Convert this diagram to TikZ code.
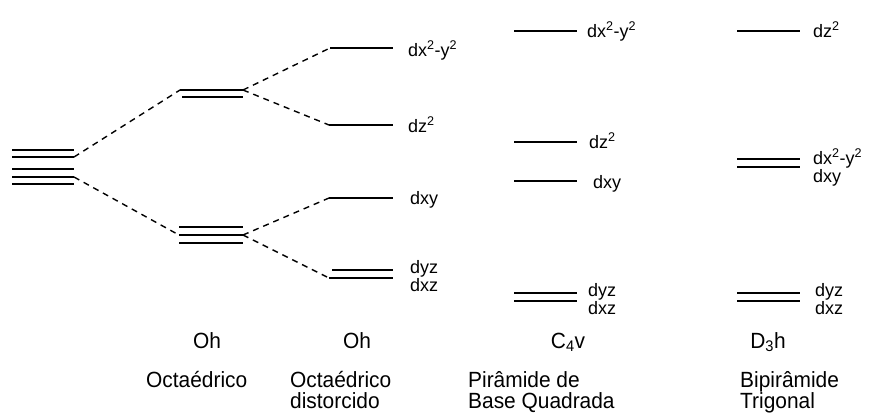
\documentclass[tikz,border=0pt]{standalone}
\usepackage{fontspec}
\setmainfont{Liberation Sans}
\newfontfamily\labfont[FakeStretch=0.95]{Liberation Sans}
\begin{document}
\begin{tikzpicture}[x=1pt,y=-1pt,
  lvl/.style={line width=1.8pt},
  conn/.style={line width=1.4pt,dash pattern=on 6pt off 5pt},
  orb/.style={anchor=base west,inner sep=0pt,font=\fontsize{18}{18}\selectfont},
  sym/.style={anchor=base,inner sep=0pt,font=\labfont\fontsize{22}{21}\selectfont},
  geo/.style={anchor=base west,inner sep=0pt,align=left,font=\labfont\fontsize{22}{21}\selectfont}]
\useasboundingbox (0,0) rectangle (874,416);
% left stack (free ion)
\foreach \i/\y in {1/150,2/157,3/169,4/177,5/184}{
  \coordinate (sL\i) at (12,\y); \coordinate (sR\i) at (74,\y);
  \draw[lvl] (sL\i) -- (sR\i);}
% Oh
\coordinate (egAl) at (180,90); \coordinate (egAr) at (243,90);
\coordinate (egBl) at (182,97); \coordinate (egBr) at (243,97);
\draw[lvl] (egAl) -- (egAr); \draw[lvl] (egBl) -- (egBr);
\coordinate (tAl) at (179,227); \coordinate (tAr) at (243,227);
\coordinate (tBl) at (179,235); \coordinate (tBr) at (243,235);
\coordinate (tCl) at (179,243); \coordinate (tCr) at (243,243);
\draw[lvl] (tAl) -- (tAr); \draw[lvl] (tBl) -- (tBr); \draw[lvl] (tCl) -- (tCr);
% distorted Oh
\coordinate (x2l) at (330,48); \coordinate (x2r) at (393,48);
\coordinate (z2l) at (329,125); \coordinate (z2r) at (393,125);
\coordinate (xyl) at (329,198); \coordinate (xyr) at (393,198);
\coordinate (yzl) at (332,270); \coordinate (yzr) at (393,270);
\coordinate (xzl) at (329,278); \coordinate (xzr) at (393,278);
\foreach \n in {x2,z2,xy,yz,xz}{\draw[lvl] (\n l) -- (\n r);}
\node[orb] (lx2) at (408,56) {dx\textsuperscript{2}-y\textsuperscript{2}};
\node[orb] (lz2) at (408,132) {dz\textsuperscript{2}};
\node[orb] (lxy) at (410,204) {dxy};
\node[orb] (lyz) at (410,273) {dyz};
\node[orb] (lxz) at (410,291) {dxz};
% connectors
\draw[conn] (sR2) -- (egAl);
\draw[conn] (sR4) -- (tBl);
\draw[conn] (egAr) -- (x2l);
\draw[conn] (egAr) -- (z2l);
\draw[conn] (tBr) -- (xyl);
\draw[conn] (tBr) -- (xzl);
% C4v
\coordinate (cx2l) at (514,31); \coordinate (cx2r) at (577,31);
\coordinate (cz2l) at (514,142); \coordinate (cz2r) at (577,142);
\coordinate (cxyl) at (514,181); \coordinate (cxyr) at (577,181);
\coordinate (cyzl) at (514,293); \coordinate (cyzr) at (577,293);
\coordinate (cxzl) at (514,301); \coordinate (cxzr) at (577,301);
\foreach \n in {cx2,cz2,cxy,cyz,cxz}{\draw[lvl] (\n l) -- (\n r);}
\node[orb] (clx2) at (587,37) {dx\textsuperscript{2}-y\textsuperscript{2}};
\node[orb] (clz2) at (589,148) {dz\textsuperscript{2}};
\node[orb] (clxy) at (593,188) {dxy};
\node[orb] (clyz) at (588,296) {dyz};
\node[orb] (clxz) at (588,314) {dxz};
% D3h
\coordinate (dz2l) at (737,31); \coordinate (dz2r) at (800,31);
\coordinate (dx2l) at (737,159); \coordinate (dx2r) at (800,159);
\coordinate (dxyl) at (737,167); \coordinate (dxyr) at (800,167);
\coordinate (dyzl) at (737,293); \coordinate (dyzr) at (800,293);
\coordinate (dxzl) at (737,301); \coordinate (dxzr) at (800,301);
\foreach \n in {dz2,dx2,dxy,dyz,dxz}{\draw[lvl] (\n l) -- (\n r);}
\node[orb] (dlz2) at (813,37) {dz\textsuperscript{2}};
\node[orb] (dlx2) at (813,164) {dx\textsuperscript{2}-y\textsuperscript{2}};
\node[orb] (dlxy) at (813,182) {dxy};
\node[orb] (dlyz) at (815,296) {dyz};
\node[orb] (dlxz) at (815,314) {dxz};
% symmetry labels
\node[sym] (s1) at (207,348) {Oh};
\node[sym] (s2) at (357,348) {Oh};
\node[sym] (s3) at (568,348) {C\textsubscript{4}v};
\node[sym] (s4) at (768,348) {D\textsubscript{3}h};
% geometry labels (base = last line)
\node[geo] (g1) at (146,387) {Octaédrico};
\node[geo] (g2) at (290,408) {Octaédrico\\distorcido};
\node[geo] (g3) at (468,408) {Pirâmide de\\Base Quadrada};
\node[geo] (g4) at (740,408) {Bipirâmide\\Trigonal};
\end{tikzpicture}
\end{document}
